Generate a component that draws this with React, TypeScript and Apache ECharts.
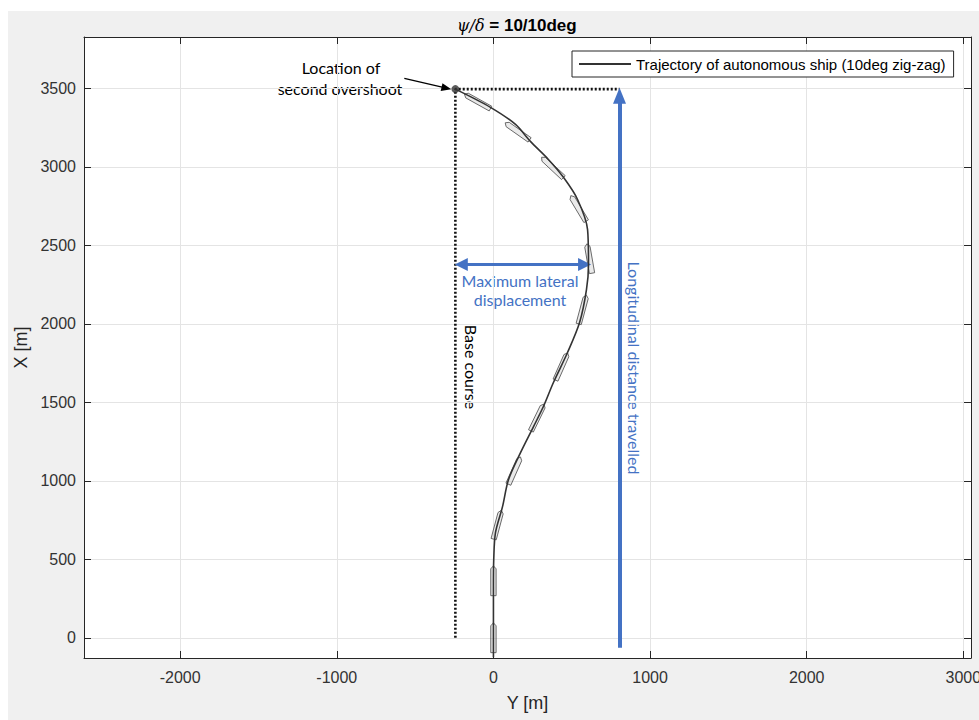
import React, { useEffect, useRef } from "react";
import * as echarts from "echarts";

// Trajectory of the ship: lateral position Y [m] and longitudinal position X [m]
const trajY = [0, 0, 0, 2, 13, 58, 96, 173, 256, 319, 383, 473, 550, 594, 607, 601, 537, 447, 351, 236, 141, -19, -243];
const trajX = [-125, 0, 325, 500, 669, 835, 1007, 1179, 1345, 1473, 1626, 1817, 2008, 2218, 2378, 2600, 2792, 2933, 3047, 3162, 3270, 3379, 3495];

// Ship outlines drawn along the track: centre (Y, X) and heading [deg]
const shipY = [0, 0, 26, 134, 281, 435, 569, 613, 543, 377, 153, -102];
const shipX = [0, 363, 720, 1065, 1403, 1728, 2091, 2416, 2735, 2996, 3226, 3417];
const shipHeading = [0, 0, 15, 24, 26, 24, 15, -10, -31, -47, -55, -61];
const shipHalfLength = 95;
const shipHalfBeam = 17;

// Annotation values
const baseCourseY = -243;
const baseCourseStartX = 0;
const overshootX = 3495;
const lateralArrowX = 2378;
const lateralArrowFromY = -205;
const lateralArrowToY = 582;
const longArrowY = 805;
const longArrowFromX = -64;
const longArrowToX = 3453;
const noteArrowFrom = [-569, 3564];
const noteArrowTo = [-300, 3501];

// Axis extents (horizontal axis is Y, vertical axis is X)
const yAxisRange = [-2614, 3049];
const xAxisRange = [-129, 3827];

const legendName = "Trajectory of autonomous ship (10deg zig-zag)";
const titleParts = ["ψ/δ", " = 10/10deg"];
const xAxisName = "Y [m]";
const yAxisName = "X [m]";

const SANS = '"Liberation Sans", Arial, Helvetica, sans-serif';
const NOTE_FONT = 'Lato, "Open Sans", sans-serif';
const BLUE = "#4472c4";
const AXIS = "#262626";

export default function App() {
  const ref = useRef<HTMLDivElement>(null);

  useEffect(() => {
    document.body.style.margin = "0";
    if (!ref.current) return;
    const chart = echarts.init(ref.current, undefined, { renderer: "svg" });

    const commonTick = { inside: true, length: 7, lineStyle: { color: AXIS, width: 1 } };
    const commonLine = { show: true, onZero: false, lineStyle: { color: AXIS, width: 1 } };
    const plain = (v: number) => String(Math.round(v));

    const option: any = {
      animation: false,
      backgroundColor: "#f0f0f0",
      textStyle: { fontFamily: SANS },
      title: {
        text: `{a|${titleParts[0]}}{b|${titleParts[1]}}`,
        left: 444,
        top: 1,
        textStyle: {
          rich: {
            a: { fontFamily: '"DejaVu Serif", serif', fontStyle: "italic", fontWeight: "normal", fontSize: 16, color: "#000" },
            b: { fontFamily: SANS, fontWeight: "bold", fontSize: 17, color: "#000" },
          },
        },
      },
      legend: {
        data: [{ name: legendName, icon: "rect" }],
        left: 564,
        top: 40,
        padding: [5, 8, 5, 7],
        backgroundColor: "#fff",
        borderColor: AXIS,
        borderWidth: 1,
        borderRadius: 0,
        itemWidth: 52,
        itemHeight: 2,
        itemStyle: { color: "#333" },
        textStyle: { fontFamily: SANS, fontSize: 15, color: "#000", lineHeight: 16 },
      },
      grid: {
        left: 76,
        top: 26,
        right: 8,
        bottom: 62,
        show: true,
        backgroundColor: "#fff",
        borderWidth: 0,
        containLabel: false,
        outerBoundsMode: "none",
      },
      xAxis: [
        {
          type: "value",
          min: yAxisRange[0],
          max: yAxisRange[1],
          splitNumber: 6,
          position: "bottom",
          name: xAxisName,
          nameLocation: "middle",
          nameGap: 36,
          nameTextStyle: { fontFamily: SANS, fontSize: 18, color: "#262626" },
          axisLine: commonLine,
          axisTick: commonTick,
          axisLabel: { formatter: plain, showMinLabel: false, showMaxLabel: false, margin: 11, fontSize: 16, color: "#333", fontFamily: SANS },
          splitLine: { show: true, lineStyle: { color: "#e4e4e4", width: 1 } },
        },
        {
          type: "value",
          min: yAxisRange[0],
          max: yAxisRange[1],
          splitNumber: 6,
          position: "top",
          axisLine: commonLine,
          axisTick: commonTick,
          axisLabel: { show: false },
          splitLine: { show: false },
        },
      ],
      yAxis: [
        {
          type: "value",
          min: xAxisRange[0],
          max: xAxisRange[1],
          splitNumber: 8,
          position: "left",
          name: yAxisName,
          nameLocation: "middle",
          nameGap: 51,
          nameTextStyle: { fontFamily: SANS, fontSize: 18, color: "#262626" },
          axisLine: commonLine,
          axisTick: commonTick,
          axisLabel: { formatter: plain, showMinLabel: false, showMaxLabel: false, margin: 8, fontSize: 16, color: "#333", fontFamily: SANS },
          splitLine: { show: true, lineStyle: { color: "#e4e4e4", width: 1 } },
        },
        {
          type: "value",
          min: xAxisRange[0],
          max: xAxisRange[1],
          splitNumber: 8,
          position: "right",
          axisLine: commonLine,
          axisTick: commonTick,
          axisLabel: { show: false },
          splitLine: { show: false },
        },
      ],
      series: [
        {
          name: "ships",
          type: "custom",
          xAxisIndex: 0,
          yAxisIndex: 0,
          silent: true,
          z: 4,
          encode: { x: 0, y: 1 },
          data: shipY.map((y, i) => [y, shipX[i], shipHeading[i]]),
          renderItem: (_params: any, api: any) => {
            const cy = api.value(0);
            const cx = api.value(1);
            const h = (api.value(2) * Math.PI) / 180;
            const uy = Math.sin(h);
            const ux = Math.cos(h);
            const py = Math.cos(h);
            const px = -Math.sin(h);
            const L = shipHalfLength;
            const B = shipHalfBeam;
            const local = [
              [L, 0],
              [L * 0.8, B],
              [-L, B],
              [-L, -B],
              [L * 0.8, -B],
            ];
            const points = local.map(([a, b]) => api.coord([cy + a * uy + b * py, cx + a * ux + b * px]));
            return {
              type: "polygon",
              shape: { points },
              style: { fill: "rgba(170,170,170,0.25)", stroke: "#5a5a5a", lineWidth: 0.9 },
            };
          },
        },
        {
          name: legendName,
          type: "line",
          xAxisIndex: 0,
          yAxisIndex: 0,
          data: trajY.map((y, i) => [y, trajX[i]]),
          symbol: "none",
          showSymbol: false,
          smooth: 0.3,
          z: 5,
          lineStyle: { color: "#333", width: 1.6 },
          itemStyle: { color: "#333" },
        },
        {
          name: "base",
          type: "line",
          xAxisIndex: 0,
          yAxisIndex: 0,
          data: [
            [baseCourseY, baseCourseStartX],
            [baseCourseY, overshootX],
            [longArrowY, overshootX],
          ],
          symbol: "none",
          showSymbol: false,
          z: 3,
          silent: true,
          lineStyle: { color: "#111", width: 2.6, type: [2, 2] },
          markLine: {
            silent: true,
            animation: false,
            label: { show: false },
            emphasis: { disabled: true },
            data: [
              [
                {
                  coord: [longArrowY, longArrowFromX],
                  symbol: "none",
                  lineStyle: { color: BLUE, width: 4, type: "solid" },
                  itemStyle: { color: BLUE },
                },
                { coord: [longArrowY, longArrowToX], symbol: "triangle", symbolSize: [13, 16] },
              ],
              [
                {
                  coord: [lateralArrowFromY, lateralArrowX],
                  symbol: "triangle",
                  symbolSize: [13, 13],
                  lineStyle: { color: BLUE, width: 3, type: "solid" },
                  itemStyle: { color: BLUE },
                },
                { coord: [lateralArrowToY, lateralArrowX], symbol: "triangle", symbolSize: [13, 13] },
              ],
              [
                {
                  coord: noteArrowFrom,
                  symbol: "none",
                  lineStyle: { color: "#000", width: 1.3, type: "solid" },
                  itemStyle: { color: "#000" },
                },
                { coord: noteArrowTo, symbol: "triangle", symbolSize: [8, 10] },
              ],
            ],
          },
        },
        {
          name: "overshoot",
          type: "scatter",
          xAxisIndex: 0,
          yAxisIndex: 0,
          data: [[trajY[trajY.length - 1], trajX[trajX.length - 1]]],
          symbolSize: 8,
          z: 6,
          silent: true,
          itemStyle: { color: "#333" },
        },
      ],
      graphic: [
        {
          type: "text",
          x: 333,
          y: 56,
          silent: true,
          style: { text: "Location of", align: "center", verticalAlign: "middle", fontFamily: NOTE_FONT, fontSize: 16, fill: "#000" },
        },
        {
          type: "text",
          x: 332,
          y: 77,
          silent: true,
          style: { text: "second overshoot", align: "center", verticalAlign: "middle", fontFamily: NOTE_FONT, fontSize: 16, fill: "#000" },
        },
        {
          type: "text",
          x: 512,
          y: 269,
          silent: true,
          style: { text: "Maximum lateral", align: "center", verticalAlign: "middle", fontFamily: NOTE_FONT, fontSize: 16, fill: BLUE },
        },
        {
          type: "text",
          x: 512,
          y: 288,
          silent: true,
          style: { text: "displacement", align: "center", verticalAlign: "middle", fontFamily: NOTE_FONT, fontSize: 16, fill: BLUE },
        },
        {
          type: "text",
          x: 463,
          y: 356,
          rotation: -Math.PI / 2,
          silent: true,
          style: { text: "Base course", align: "center", verticalAlign: "middle", fontFamily: NOTE_FONT, fontSize: 16, fill: "#000" },
        },
        {
          type: "text",
          x: 626,
          y: 357,
          rotation: -Math.PI / 2,
          silent: true,
          style: { text: "Longitudinal distance travelled", align: "center", verticalAlign: "middle", fontFamily: NOTE_FONT, fontSize: 16, fill: BLUE },
        },
      ],
    };

    chart.setOption(option);
    return () => chart.dispose();
  }, []);

  return (
    <div style={{ position: "relative", width: 979, height: 720, background: "#fff", overflow: "hidden" }}>
      <div ref={ref} style={{ position: "absolute", left: 8, top: 11, width: 971, height: 709 }} />
    </div>
  );
}
